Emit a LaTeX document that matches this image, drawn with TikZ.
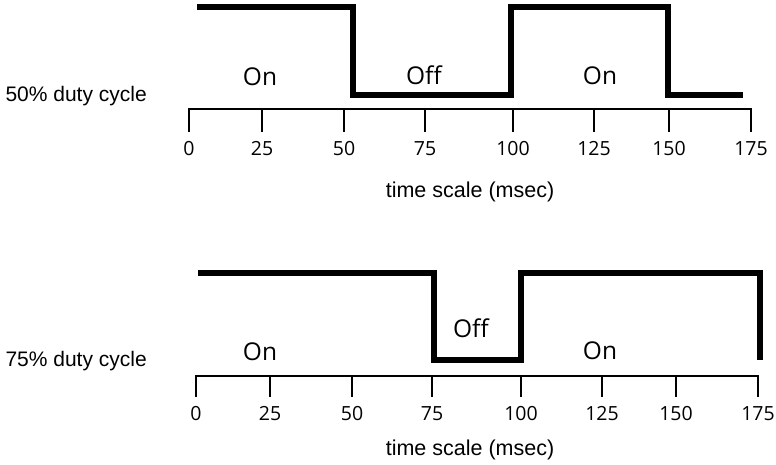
\documentclass[tikz,border=0pt]{standalone}
\usepackage{fontspec}
\setmainfont{Liberation Sans}
\newfontfamily\osans{Open Sans}
\begin{document}
\begin{tikzpicture}[x=1pt,y=-1pt,
  wave/.style={line width=5.5pt,line join=miter},
  axisline/.style={line width=2pt},
  ticklab/.style={font=\osans\fontsize{19.5}{21}\selectfont,anchor=base},
  statelab/.style={font=\osans\fontsize{24.5}{27}\selectfont,anchor=base},
  sidelab/.style={font=\fontsize{21}{24}\selectfont,anchor=base west},
  scalelab/.style={font=\fontsize{21.5}{24}\selectfont,anchor=base}]
\useasboundingbox (0,0) rectangle (776,464);
% ---------- top: 50% duty cycle ----------
\coordinate (a0) at (197,7);
\coordinate (a1) at (353,7);
\coordinate (a2) at (353,95);
\coordinate (a3) at (511,95);
\coordinate (a4) at (511,7);
\coordinate (a5) at (668,7);
\coordinate (a6) at (668,95);
\coordinate (a7) at (743,95);
\draw[wave] (a0) -- (a1) -- (a2) -- (a3) -- (a4) -- (a5) -- (a6) -- (a7);
\foreach \n/\x/\l in {0/189/0,1/262/25,2/344/50,3/425/75,4/513/100,5/594/125,6/669/150,7/751/175}{
  \coordinate (ta\n) at (\x,109);
  \coordinate (tb\n) at (\x,132);
  \node[ticklab] (la\n) at (\x,155) {\l};
}
\draw[axisline] (tb0) -- (ta0) -- (ta7) -- (tb7);
\foreach \n in {1,...,6}{\draw[axisline] (ta\n) -- (tb\n);}
\node[statelab] (on1) at (260,85) {On};
\node[statelab] (off1) at (424,84) {Off};
\node[statelab] (on2) at (600,84) {On};
\node[sidelab] (d50) at (2,101) {50\% duty cycle};
\node[scalelab] (ts1) at (470,197) {time scale (msec)};
% ---------- bottom: 75% duty cycle ----------
\coordinate (b0) at (198,273);
\coordinate (b1) at (434,273);
\coordinate (b2) at (434,360);
\coordinate (b3) at (521,360);
\coordinate (b4) at (521,273);
\coordinate (b5) at (760,273);
\coordinate (b6) at (760,360);
\draw[wave] (b0) -- (b1) -- (b2) -- (b3) -- (b4) -- (b5) -- (b6);
\foreach \n/\x/\l in {0/196/0,1/270/25,2/352/50,3/432/75,4/521/100,5/602/125,6/676/150,7/758/175}{
  \coordinate (ua\n) at (\x,376);
  \coordinate (ub\n) at (\x,397);
  \node[ticklab] (lb\n) at (\x,420) {\l};
}
\draw[axisline] (ub0) -- (ua0) -- (ua7) -- (ub7);
\foreach \n in {1,...,6}{\draw[axisline] (ua\n) -- (ub\n);}
\node[statelab] (on3) at (260,360) {On};
\node[statelab] (off2) at (471,337) {Off};
\node[statelab] (on4) at (600,359) {On};
\node[sidelab] (d75) at (2,366) {75\% duty cycle};
\node[scalelab] (ts2) at (470,455) {time scale (msec)};
\end{tikzpicture}
\end{document}
